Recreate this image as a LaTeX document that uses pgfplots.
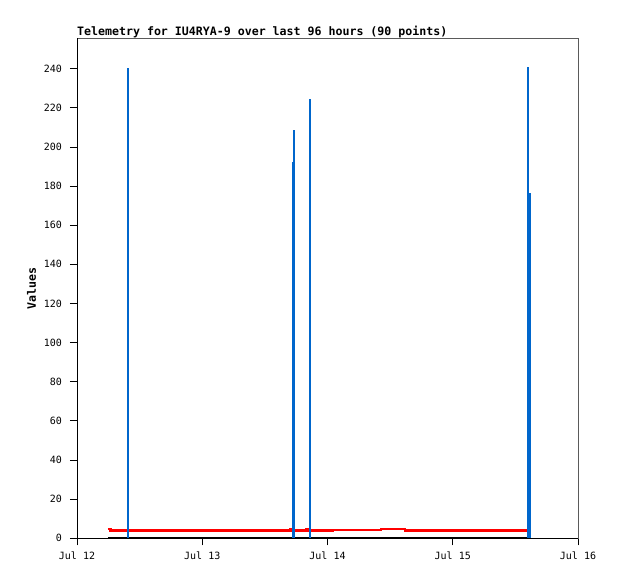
\documentclass[border=0pt]{standalone}
\usepackage{fontspec}
\setmonofont{DejaVu Sans Mono}
\usepackage{pgfplots}
\pgfplotsset{compat=1.18}
\definecolor{tblue}{RGB}{0,102,204}
\definecolor{tgray}{RGB}{90,90,90}
\begin{document}
\begin{tikzpicture}
\useasboundingbox (0,0) rectangle (618bp,579bp);
\begin{axis}[
  at={(77bp,40.7bp)}, anchor=south west,
  scale only axis, width=501bp, height=500bp,
  xmin=0, xmax=4, ymin=0, ymax=255.5,
  xtick={0,1,2,3,4},
  xticklabels={Jul 12,Jul 13,Jul 14,Jul 15,Jul 16},
  ytick={0,20,...,240},
  tick align=outside, xtick pos=bottom, ytick pos=left,
  major tick length=7bp,
  every tick/.style={black, line width=0.8bp},
  axis line style={tgray, line width=0.8bp},
  /pgf/number format/assume math mode=true,
  ticklabel style={font=\ttfamily\fontsize{10bp}{12bp}\selectfont},
  xticklabel style={yshift=-3.5bp},
  yticklabel style={xshift=-4.5bp},
  title={Telemetry for IU4RYA-9 over last 96 hours (90 points)},
  title style={at={(axis description cs:0,1)}, anchor=base west, yshift=-3bp, inner sep=0pt, font=\ttfamily\bfseries\fontsize{11.6bp}{13bp}\selectfont},
  ylabel={Values},
  every axis y label/.style={at={(axis description cs:0,0.5)}, xshift=-45.5bp, rotate=90, anchor=center, font=\ttfamily\bfseries\fontsize{11.6bp}{13bp}\selectfont},
  clip=false,
]
\addplot[black, line width=2bp, const plot] coordinates {(0.2459,0) (3.5928,0)};
\addplot[red, line width=2.3bp, const plot] coordinates {
(0.2459,4.7) (0.2675,4.0) (1.7045,4.5) (1.7146,4.0) (1.8308,4.5) (1.8467,4.0)
(2.0463,4.4) (2.4263,4.9) (2.6180,4.0) (3.5928,4.0)};
\addplot[tblue, line width=2.3bp, ycomb] coordinates {
(0.4056,240.5) (1.7246,192.5) (1.7325,208.4) (1.8603,224.7)
(3.6008,176.7) (3.6168,176.7) (3.6008,240.7)};
\draw[black, line width=0.8bp] (rel axis cs:0,0) -- (rel axis cs:0,1);
\draw[black, line width=0.8bp] (rel axis cs:0,0) -- (rel axis cs:1,0);
\end{axis}
\end{tikzpicture}
\end{document}
